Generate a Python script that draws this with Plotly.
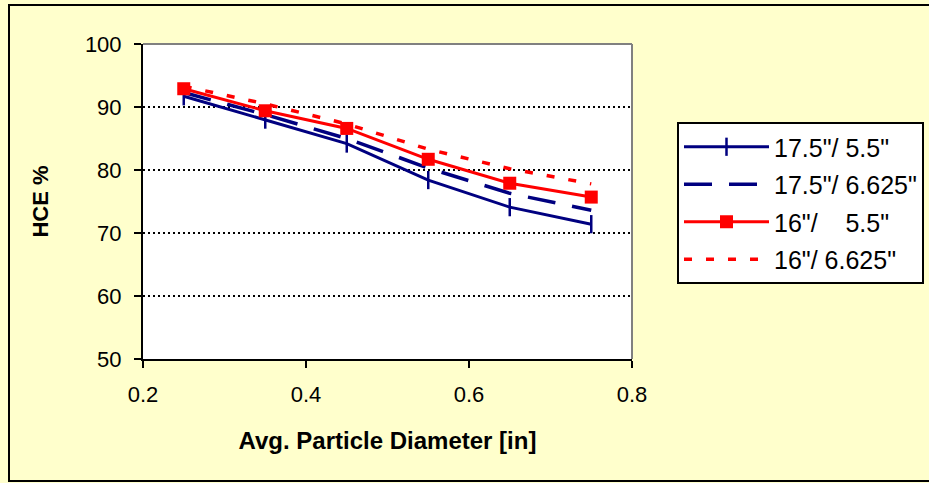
import plotly.graph_objects as go

diam = [0.25, 0.35, 0.45, 0.55, 0.65, 0.75]
s_175_55 = [91.7, 88.0, 84.2, 78.4, 74.1, 71.4]
s_175_6625 = [92.3, 88.8, 85.0, 80.3, 76.3, 73.6]
s_16_55 = [92.9, 89.4, 86.6, 81.7, 77.9, 75.7]
s_16_6625 = [93.3, 90.5, 87.3, 83.3, 80.2, 77.8]
names = ['17.5"/ 5.5"', '17.5"/ 6.625"', '16"/    5.5"', '16"/ 6.625"']

NAVY = "#000080"
RED = "#FF0000"
FONT = "Liberation Sans, Arial, sans-serif"

fig = go.Figure()
fig.add_trace(go.Scatter(x=diam, y=s_175_55, name=names[0], mode="lines+markers", legendgroup="a",
                         line=dict(color=NAVY, width=3),
                         marker=dict(symbol="line-ns", size=13, line=dict(color=NAVY, width=2.5))))
fig.add_trace(go.Scatter(x=diam, y=s_175_6625, name=names[1], mode="lines", legendgroup="b",
                         line=dict(color=NAVY, width=3.5, dash="28px,17px")))
fig.add_trace(go.Scatter(x=diam, y=s_16_55, name=names[2], mode="lines+markers", legendgroup="c",
                         line=dict(color=RED, width=3),
                         marker=dict(symbol="square", size=13, color=RED)))
fig.add_trace(go.Scatter(x=diam, y=s_16_6625, name=names[3], mode="lines", legendgroup="d",
                         line=dict(color=RED, width=3.5, dash="8px,14px")))

L, R, T, B = 143, 632, 44, 359
W, H = 929, 483
pw, ph = R - L, B - T

def px(x):
    return (x - L) / pw

def py(y):
    return (B - y) / ph

fig.update_layout(
    width=W, height=H,
    margin=dict(l=L, r=W - R, t=T, b=H - B, autoexpand=False),
    paper_bgcolor="#FFFFCC",
    plot_bgcolor="white",
    font=dict(family=FONT, color="black", size=22),
    showlegend=True,
    legend=dict(x=px(677), y=py(122), xanchor="left", yanchor="top",
                bgcolor="white", bordercolor="black", borderwidth=2,
                font=dict(size=25, family=FONT), itemwidth=85,
                tracegroupgap=2, itemsizing="trace"),
    xaxis=dict(range=[0.2, 0.8], tickvals=[0.2, 0.4, 0.6, 0.8],
               ticktext=["0.2", "0.4", "0.6", "0.8"],
               showline=True, linecolor="black", linewidth=2,
               ticks="outside", ticklen=7, tickwidth=2, tickcolor="black",
               showgrid=False, zeroline=False, ticklabelstandoff=8,
               tickfont=dict(size=22),
               title=dict(text="<b>Avg. Particle Diameter [in]</b>", font=dict(size=24), standoff=26)),
    yaxis=dict(range=[50, 100], tickvals=[50, 60, 70, 80, 90, 100],
               showline=True, linecolor="black", linewidth=2,
               ticks="outside", ticklen=7, tickwidth=2, tickcolor="black",
               showgrid=False, zeroline=False, ticklabelstandoff=8,
               tickfont=dict(size=22),
               title=dict(text="<b>HCE %</b>", font=dict(size=22), standoff=30)),
)

# dotted gridlines
for g in [60, 70, 80, 90]:
    fig.add_shape(type="line", xref="paper", yref="y", x0=0, x1=1, y0=g, y1=g,
                  line=dict(color="black", width=2, dash="2px,3px"), layer="below")
# gray top/right border of plot area
fig.add_shape(type="line", xref="paper", yref="paper", x0=0, x1=1, y0=1, y1=1,
              line=dict(color="#808080", width=2))
fig.add_shape(type="line", xref="paper", yref="paper", x0=1, x1=1, y0=0, y1=1,
              line=dict(color="#808080", width=2))
# outer chart border
fig.add_shape(type="rect", xref="paper", yref="paper",
              x0=px(9), x1=px(930), y0=py(481), y1=py(5),
              line=dict(color="black", width=2), fillcolor="rgba(0,0,0,0)")

fig.write_html("out.html")
